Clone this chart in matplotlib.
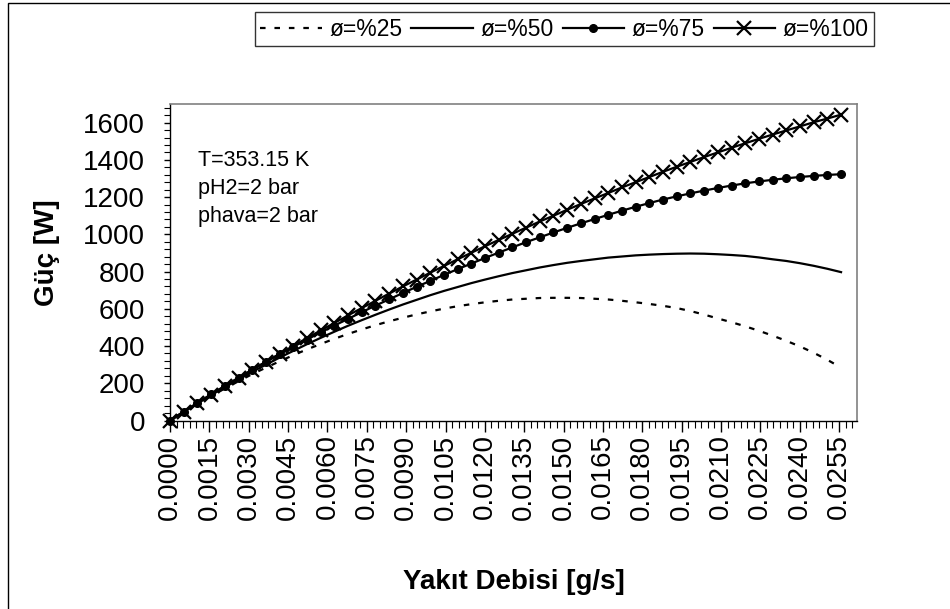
"""
Yakıt debisine göre güç eğrileri (ø=%25 ... %100)
"""
import matplotlib.pyplot as plt
import matplotlib.patches as patches
from matplotlib.ticker import MultipleLocator, FormatStrFormatter

plt.rcParams['font.family'] = ['Liberation Sans', 'DejaVu Sans']

# Yakıt debisi [g/s]
debi = [0, 0.000522, 0.001044, 0.001566, 0.002088, 0.00261, 0.003132, 0.003654,
        0.004176, 0.004698, 0.00522, 0.005742, 0.006264, 0.006786, 0.007308,
        0.00783, 0.008352, 0.008874, 0.009396, 0.009918, 0.01044, 0.010962,
        0.011484, 0.012006, 0.012528, 0.01305, 0.013572, 0.014094, 0.014616,
        0.015138, 0.01566, 0.016182, 0.016704, 0.017226, 0.017748, 0.01827,
        0.018792, 0.019314, 0.019836, 0.020358, 0.02088, 0.021402, 0.021924,
        0.022446, 0.022968, 0.02349, 0.024012, 0.024534, 0.025056, 0.025578]

# Güç [W]
guc_25 = [0, 45, 89, 132, 172, 211, 249, 284, 318, 351, 382, 411, 439, 465, 489,
          512, 533, 552, 570, 586, 601, 614, 625, 635, 643, 650, 654, 658, 659, 659,
          658, 654, 650, 643, 635, 626, 616, 604, 588, 569, 548, 528, 506, 482, 456,
          428, 398, 364, 326, 284]
guc_50 = [0, 47, 92, 136, 179, 220, 261, 300, 338, 374, 410, 444, 477, 509, 539,
          568, 596, 623, 648, 673, 696, 717, 738, 757, 775, 792, 807, 822, 835, 847,
          857, 866, 875, 881, 887, 891, 894, 896, 897, 896, 893, 889, 884, 876, 866,
          857, 845, 831, 815, 797]
guc_75 = [0, 48, 95, 141, 186, 230, 273, 315, 356, 396, 435, 473, 510, 546, 582,
          617, 651, 685, 718, 750, 782, 813, 843, 873, 902, 930, 958, 984, 1010, 1035,
          1059, 1082, 1105, 1127, 1148, 1168, 1187, 1204, 1220, 1235, 1249, 1262,
          1274, 1284, 1293, 1301, 1308, 1314, 1319, 1323]
guc_100 = [0, 47, 93, 139, 184, 228, 272, 316, 358, 401, 443, 484, 524, 565, 604,
           643, 682, 720, 757, 794, 830, 866, 901, 936, 970, 1003, 1036, 1069, 1100,
           1132, 1163, 1193, 1222, 1252, 1280, 1308, 1336, 1363, 1389, 1415, 1440,
           1465, 1489, 1513, 1536, 1558, 1580, 1602, 1622, 1643]

etiketler = ['ø=%25', 'ø=%50', 'ø=%75', 'ø=%100']
kosullar = 'T=353.15 K\npH2=2 bar\nphava=2 bar'

fig = plt.figure(figsize=(9.5, 6.09), dpi=100)
ax = fig.add_axes([0.179, 0.3095, 0.7235, 0.5197])

# eğriler
ax.plot(debi, guc_25, color='black', lw=1.6, linestyle=(0, (2.5, 4)), label=etiketler[0])
ax.plot(debi, guc_50, color='black', lw=1.6, label=etiketler[1])
ax.plot(debi, guc_75, color='black', lw=1.6, marker='o', markersize=5.5, label=etiketler[2],
        clip_on=False)
ax.plot(debi, guc_100, color='black', lw=1.6, marker='x', markersize=10.5, mew=1.6,
        label=etiketler[3], clip_on=False)

ax.set_xlim(0, 0.0262)
ax.set_ylim(0, 1700)

# eksen çizgileri
for s in ['top', 'right']:
    ax.spines[s].set_color('#808080')
    ax.spines[s].set_linewidth(1.2)
for s in ['left', 'bottom']:
    ax.spines[s].set_color('black')
    ax.spines[s].set_linewidth(1.0)

ax.xaxis.set_major_locator(MultipleLocator(0.0015))
ax.xaxis.set_minor_locator(MultipleLocator(0.00025))
ax.xaxis.set_major_formatter(FormatStrFormatter('%.4f'))
ax.yaxis.set_major_locator(MultipleLocator(200))
ax.yaxis.set_minor_locator(MultipleLocator(40))

ax.tick_params(axis='x', which='major', direction='out', length=8, width=1,
               labelsize=20, labelrotation=90, pad=2)
ax.tick_params(axis='x', which='minor', direction='out', length=5, width=0.8)
ax.tick_params(axis='y', which='major', direction='out', length=4, width=1,
               labelsize=20, pad=14)
ax.tick_params(axis='y', which='minor', direction='out', length=4, width=0.8)

ax.set_xlabel('Yakıt Debisi [g/s]', fontsize=20, fontweight='bold')
ax.xaxis.set_label_coords(0.5, -0.47)
ax.set_ylabel('Güç [W]', fontsize=20, fontweight='bold')
ax.yaxis.set_label_coords(-0.16, 0.53)

ax.text(0.04, 0.855, kosullar, transform=ax.transAxes, fontsize=15.5,
        va='top', ha='left', linespacing=1.45)

# lejant
leg = fig.legend(loc='center', bbox_to_anchor=(0.594, 0.952), ncol=4, fontsize=16.5,
                 frameon=True, fancybox=False, handlelength=2.7, handletextpad=0.3,
                 columnspacing=0.4, borderpad=0.25, borderaxespad=0)
leg.get_frame().set_edgecolor('black')
leg.get_frame().set_linewidth(1.0)

# dış çerçeve
cerceve = patches.Rectangle((8 / 950, -0.05), 1.2, 1 - 3 / 609 + 0.05,
                            transform=fig.transFigure, fill=False,
                            edgecolor='black', lw=1.0, clip_on=False)
fig.patches.append(cerceve)

plt.savefig('out.png', dpi=100)
